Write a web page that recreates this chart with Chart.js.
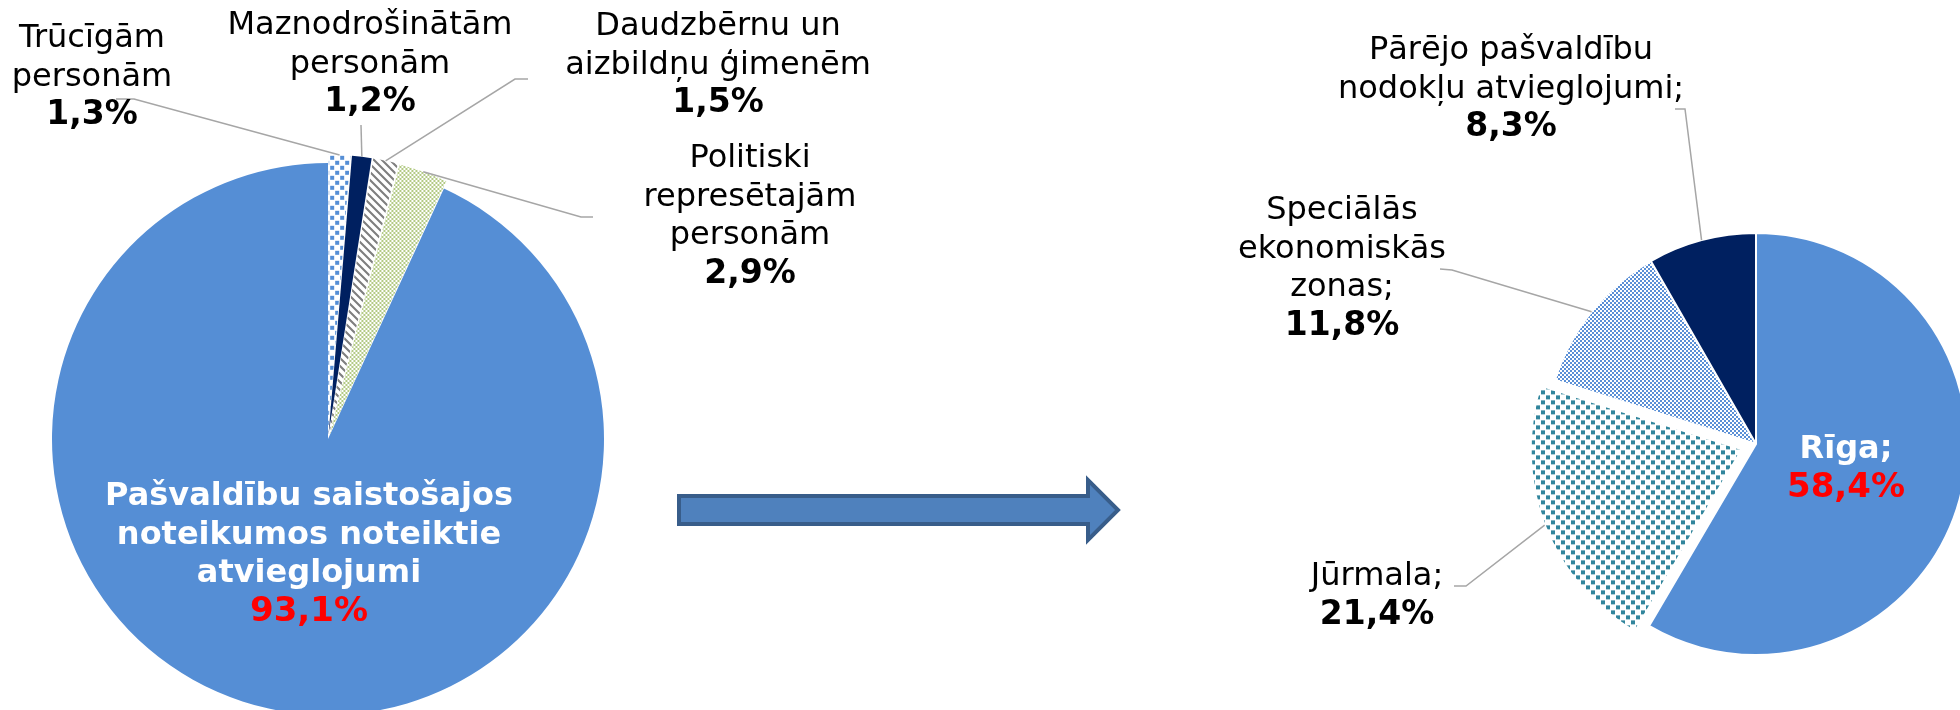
<!DOCTYPE html>
<html>
<head>
<meta charset="utf-8">
<script src="https://cdn.jsdelivr.net/npm/chart.js@4"></script>
<style>
  html, body { margin: 0; padding: 0; background: #fff; overflow: hidden; }
  #wrap { position: relative; width: 1960px; height: 710px; }
  canvas { position: absolute; left: 0; top: 0; }
</style>
</head>
<body>
<div id="wrap">
  <canvas id="leftPie" width="1960" height="710"></canvas>
  <canvas id="rightPie" width="1960" height="710"></canvas>
</div>
<script>
// data - left pie (all reliefs)
const leftCategories = ['Trūcīgām\npersonām', 'Maznodrošinātām\npersonām', 'Daudzbērnu un\naizbildņu ģimenēm',
  'Politiski\nrepresētajām\npersonām', 'Pašvaldību saistošajos\nnoteikumos noteiktie\natvieglojumi'];
const leftValues = [1.3, 1.2, 1.5, 2.9, 93.1];

// data - right pie (split of the 93,1%)
const rightCategories = ['Rīga', 'Jūrmala', 'Speciālās\nekonomiskās\nzonas', 'Pārējo pašvaldību\nnodokļu atvieglojumi'];
const rightValues = [58.4, 21.4, 11.8, 8.3];

// label placement (pixels)
const leftLayout = [
  { x: 92, y: 47, from: [116, 99], elbow: [134, 99] },
  { x: 370, y: 34, from: [361, 125] },
  { x: 718, y: 35, from: [528, 79], elbow: [515, 79] },
  { x: 750, y: 167, from: [593, 217], elbow: [581, 217] },
  { x: 309, y: 505, inside: true }
];
const rightLayout = [
  { x: 1846, y: 458, inside: true },
  { x: 1377, y: 585, from: [1454, 586], elbow: [1466, 586] },
  { x: 1342, y: 219, from: [1440, 269], elbow: [1452, 270] },
  { x: 1511, y: 59, from: [1675, 109], elbow: [1685, 109] }
];

const BLUE = '#558ED5', NAVY = '#002060';
const FONT = '"DejaVu Sans", Verdana, sans-serif';

function makePattern(size, fg, draw) {
  const c = document.createElement('canvas');
  c.width = c.height = size;
  const g = c.getContext('2d');
  g.fillStyle = '#fff';
  g.fillRect(0, 0, size, size);
  g.fillStyle = fg;
  draw(g, size);
  return g.createPattern(c, 'repeat');
}
const dots = color => makePattern(10, color, g => { g.fillRect(0, 0, 4, 4); g.fillRect(5, 5, 4, 4); });
const checker = (color, cell) => makePattern(cell * 2, color, g => { g.fillRect(0, 0, cell, cell); g.fillRect(cell, cell, cell, cell); });
const stripes = color => makePattern(8, color, g => {
  for (let y = 0; y < 8; y++)
    for (let x = 0; x < 8; x++)
      if ((x - y + 16) % 8 < 3) g.fillRect(x, y, 1, 1);
});

function fmt(v) { return v.toFixed(1).replace('.', ',') + '%'; }

function labelPlugin(categories, values, layout, sep) {
  return {
    id: 'sliceLabels',
    afterDatasetsDraw(chart) {
      const ctx = chart.ctx;
      const arcs = chart.getDatasetMeta(0).data;
      ctx.save();
      ctx.textAlign = 'center';
      ctx.textBaseline = 'alphabetic';
      layout.forEach((lay, i) => {
        const arc = arcs[i];
        const lines = (categories[i] + sep).split('\n');
        const lh = 38.7;
        if (lay.inside) {
          ctx.fillStyle = '#fff';
          ctx.font = 'bold 32px ' + FONT;
          lines.forEach((t, k) => ctx.fillText(t, lay.x, lay.y + k * lh));
          ctx.fillStyle = '#FF0000';
          ctx.font = 'bold 34px ' + FONT;
          ctx.fillText(fmt(values[i]), lay.x, lay.y + lines.length * lh);
          return;
        }
        // leader line to the outer edge of the slice at its middle angle
        const mid = (arc.startAngle + arc.endAngle) / 2;
        const off = (arc.options.offset || 0) / 4;
        const fix = 1 - Math.sin(Math.min(Math.PI, arc.circumference));
        const d = arc.outerRadius + off + off * fix;
        const ex = arc.x + Math.cos(mid) * d, ey = arc.y + Math.sin(mid) * d;
        ctx.strokeStyle = '#A6A6A6';
        ctx.lineWidth = 1.5;
        ctx.beginPath();
        ctx.moveTo(lay.from[0], lay.from[1]);
        if (lay.elbow) ctx.lineTo(lay.elbow[0], lay.elbow[1]);
        ctx.lineTo(ex, ey);
        ctx.stroke();

        ctx.fillStyle = '#000';
        ctx.font = '32px ' + FONT;
        lines.forEach((t, k) => ctx.fillText(t, lay.x, lay.y + k * lh));
        ctx.font = 'bold 33px ' + FONT;
        ctx.fillText(fmt(values[i]), lay.x, lay.y + lines.length * lh);
      });
      ctx.restore();
    }
  };
}

// block arrow between the two pies
const arrowPlugin = {
  id: 'arrow',
  afterDraw(chart) {
    const ctx = chart.ctx;
    ctx.save();
    ctx.beginPath();
    ctx.moveTo(679, 496);
    ctx.lineTo(1088, 496);
    ctx.lineTo(1088, 480);
    ctx.lineTo(1118, 510);
    ctx.lineTo(1088, 540);
    ctx.lineTo(1088, 524);
    ctx.lineTo(679, 524);
    ctx.closePath();
    ctx.fillStyle = '#4F81BD';
    ctx.fill();
    ctx.strokeStyle = '#385D8A';
    ctx.lineWidth = 4;
    ctx.lineJoin = 'miter';
    ctx.stroke();
    ctx.restore();
  }
};

const baseOptions = {
  responsive: false,
  animation: false,
  events: [],
  plugins: { legend: { display: false }, tooltip: { enabled: false } }
};

new Chart(document.getElementById('leftPie'), {
  type: 'pie',
  data: {
    labels: leftCategories,
    datasets: [{
      data: leftValues,
      backgroundColor: [dots(BLUE), NAVY, stripes('#7F7F7F'), checker('#B3CA85', 2), BLUE],
      borderWidth: 0,
      offset: [17, 17, 17, 17, 0],
      radius: 276,
      clip: false
    }]
  },
  options: Object.assign({}, baseOptions, {
    layout: { padding: { left: 0, right: 1304, top: 168, bottom: 0 } }
  }),
  plugins: [labelPlugin(leftCategories, leftValues, leftLayout, ''), arrowPlugin]
});

new Chart(document.getElementById('rightPie'), {
  type: 'pie',
  data: {
    labels: rightCategories,
    datasets: [{
      data: rightValues,
      backgroundColor: [BLUE, dots('#31859C'), checker('#5A8FD6', 2), NAVY],
      borderColor: '#fff',
      borderWidth: 2,
      offset: [0, 60, 0, 0],
      radius: 211,
      clip: false
    }]
  },
  options: Object.assign({}, baseOptions, {
    layout: { padding: { left: 1552, right: 0, top: 178, bottom: 0 } }
  }),
  plugins: [labelPlugin(rightCategories, rightValues, rightLayout, ';')]
});
</script>
</body>
</html>
